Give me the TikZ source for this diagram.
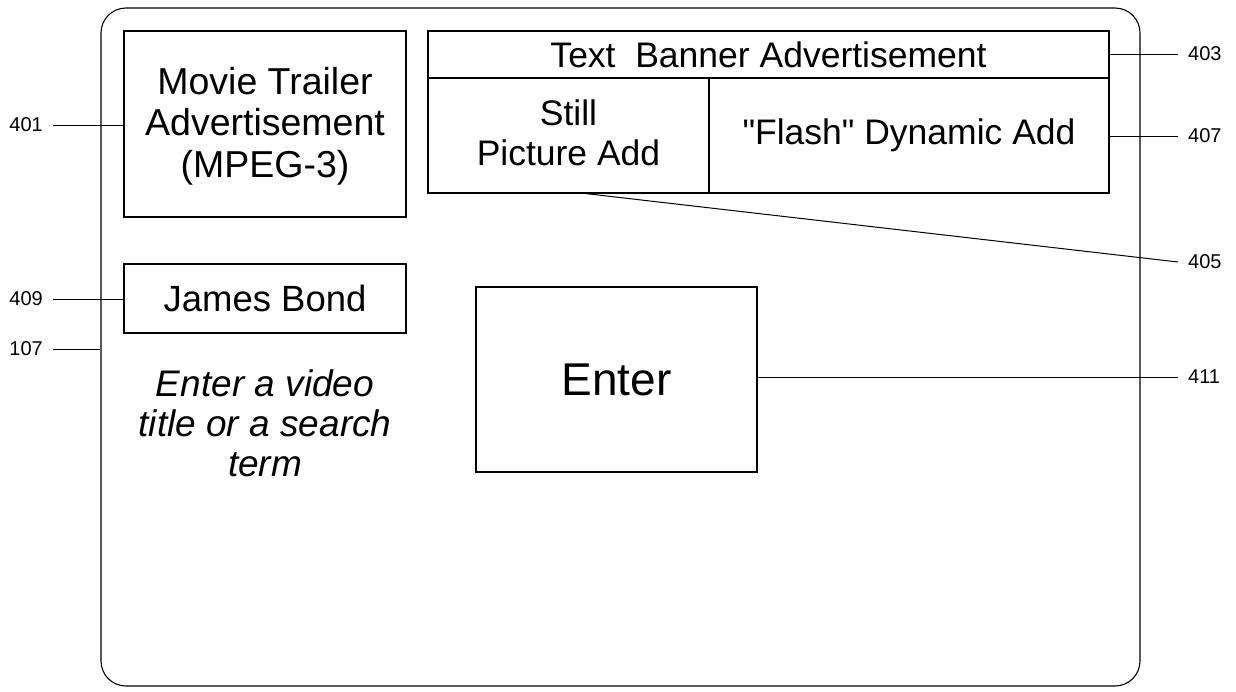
\documentclass[tikz,border=0pt]{standalone}
\usepackage{fontspec}
\setmainfont{Liberation Sans}
\begin{document}
\begin{tikzpicture}[x=1pt,y=-1pt,
  box/.style={draw,line width=1.1pt,inner sep=0pt,align=center},
  big/.style={font=\fontsize{35.5}{40}\selectfont},
  ref/.style={font=\fontsize{20}{22}\selectfont,inner xsep=10pt,inner ysep=0pt},
  lead/.style={line width=1pt}]
\useasboundingbox (0,0) rectangle (1236,691);
% outer screen
\node[box,rounded corners=25pt,minimum width=1039pt,minimum height=678pt] (screen) at (620.5,347) {};
% boxes
\node[box,minimum width=282pt,minimum height=186pt] (movie) at (265,124) {};
\node[align=center,font=\fontsize{37.5}{41.5}\selectfont] (movietxt) at (265,126) {Movie Trailer\\Advertisement\\(MPEG-3)};
\node[box,big,minimum width=681pt,minimum height=47pt] (banner) at (768.5,54.5) {Text\ \ Banner Advertisement};
\node[box,minimum width=281pt,minimum height=115pt] (still) at (568.5,135.5) {};
\node[big,align=center] (stilltxt) at (568.5,133) {Still\\Picture Add};
\node[box,big,minimum width=400pt,minimum height=115pt] (flash) at (909,135.5) {\textquotedbl Flash\textquotedbl{} Dynamic Add};
\node[box,font=\fontsize{36.5}{40}\selectfont,minimum width=282pt,minimum height=69pt] (james) at (265,298.5) {James Bond};
\node[box,font=\fontsize{46}{50}\selectfont,minimum width=281pt,minimum height=185pt] (enter) at (616.5,379.5) {Enter};
\node[align=center,font=\fontsize{37}{40}\selectfont\itshape] (hint) at (265,423) {Enter a video\\title or a search\\term};
% reference labels
\node[ref,anchor=east] (l401) at (53,125) {401};
\node[ref,anchor=east] (l409) at (53,299) {409};
\node[ref,anchor=east] (l107) at (53,349) {107};
\node[ref,anchor=west] (l403) at (1178,54) {403};
\node[ref,anchor=west] (l407) at (1178,136) {407};
\node[ref,anchor=west] (l405) at (1178,262) {405};
\node[ref,anchor=west] (l411) at (1178,377) {411};
% leaders
\draw[lead] (l401.east) -- (movie.west |- l401.east);
\draw[lead] (l409.east) -- (james.west |- l409.east);
\draw[lead] (l107.east) -- (screen.west |- l107.east);
\draw[lead] (banner.east |- l403.west) -- (l403.west);
\draw[lead] (flash.east |- l407.west) -- (l407.west);
\coordinate (s405) at ([xshift=17pt]still.south);
\draw[lead] (s405) -- (l405.west);
\draw[lead] (enter.east |- l411.west) -- (l411.west);
\end{tikzpicture}
\end{document}
